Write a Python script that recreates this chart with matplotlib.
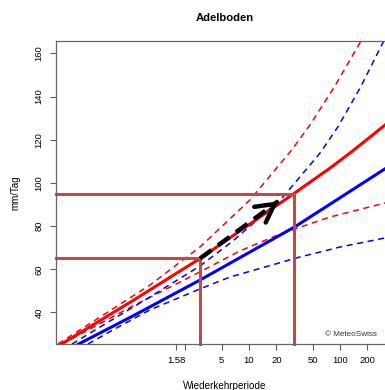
import numpy as np
import matplotlib.pyplot as plt
from matplotlib.ticker import NullLocator

plt.rcParams['font.family'] = ['Liberation Sans', 'DejaVu Sans']

# return level curves (return period in years, precipitation in mm/day)
red_T = [0.0865, 0.53, 2.9, 31, 78, 135, 255, 395]
red_v = [25.3, 45.5, 65, 95, 106.9, 114.5, 123.8, 130.3]
red_lo_T = [0.088, 0.53, 2.89, 7.96, 21.9, 77.6, 313, 392]
red_lo_v = [25.4, 43.0, 58.8, 68.5, 76.3, 84.2, 90.7, 91.6]
red_hi_T = [0.0796, 0.817, 2.89, 10.25, 29.4, 46.8, 88, 170, 275]
red_hi_v = [25.4, 52.7, 70.3, 92.1, 115.2, 126.8, 144.9, 165.7, 181.0]

blue_T = [0.133, 0.531, 2.89, 17.7, 32.0, 299, 392]
blue_v = [25.3, 38.4, 55.0, 73.6, 79.7, 106.0, 109.2]
blue_lo_T = [0.170, 0.320, 0.817, 2.89, 6.18, 36.3, 100, 313, 392]
blue_lo_v = [25.4, 31.9, 41.2, 50.9, 56.4, 65.7, 70.3, 74.5, 75.0]
blue_hi_T = [0.1135, 0.273, 0.817, 2.89, 6.67, 23.8, 60.3, 95, 166, 287, 392]
blue_hi_v = [25.4, 35.1, 47.2, 61.5, 73.1, 93.6, 113.8, 126.0, 143.9, 163.8, 174.5]

# levels marked on the red curve and their return periods
mark_T = [2.9, 31]
mark_v = [65, 95]

# shift arrow
arrow_T = [2.9, 21]
arrow_v = [65, 91.5]

xticks = [1.58, 2, 5, 10, 20, 50, 100, 200]
xticklabels = ['1.58', '', '5', '10', '20', '50', '100', '200']
yticks = [40, 60, 80, 100, 120, 140, 160]

xmin, xmax = 0.0757, 392
ymin, ymax = 25.4, 165.7

RED = '#ff0000'
BLUE = '#0000ff'
MARK = '#bf4b48'

fig = plt.figure(figsize=(3.85, 3.9), dpi=100)
ax = fig.add_axes([56/385, 46/390, 338/385, 303/390])

dash = (4, 3)
ax.plot(red_hi_T, red_hi_v, color=RED, lw=1.1, dashes=dash)
ax.plot(red_lo_T, red_lo_v, color=RED, lw=1.1, dashes=dash)
ax.plot(blue_hi_T, blue_hi_v, color=BLUE, lw=1.1, dashes=dash)
ax.plot(blue_lo_T, blue_lo_v, color=BLUE, lw=1.1, dashes=dash)
ax.plot(red_T, red_v, color=RED, lw=2.2)
ax.plot(blue_T, blue_v, color=BLUE, lw=2.2)

# guide lines from the axes to the curve
for t, v in zip(mark_T, mark_v):
    ax.plot([xmin, t, t], [v, v, ymin], color=MARK, lw=2.2,
            solid_joinstyle='miter', clip_on=False)

# dashed arrow with an open head
ax.plot(arrow_T, arrow_v, color='k', lw=3.2, dashes=(3.2, 1.8),
        dash_capstyle='butt')
lt = np.log10(arrow_T)
base_T = 10 ** (lt[0] + 0.97 * (lt[1] - lt[0]))
base_v = arrow_v[0] + 0.97 * (arrow_v[1] - arrow_v[0])
ax.annotate('', xy=(arrow_T[1], arrow_v[1]), xytext=(base_T, base_v),
            arrowprops=dict(arrowstyle='->,head_length=1.3,head_width=0.7',
                            lw=3.2, color='k', shrinkA=0, shrinkB=0))

ax.set_xscale('log')
ax.set_xlim(xmin, xmax)
ax.set_ylim(ymin, ymax)
ax.xaxis.set_minor_locator(NullLocator())
ax.set_xticks(xticks)
ax.set_xticklabels(xticklabels)
ax.set_yticks(yticks)
plt.setp(ax.get_yticklabels(), rotation=90, va='center')
ax.tick_params(axis='both', length=4.3, width=0.8, color='0.35',
               labelsize=6.8, pad=4.5)
for s in ax.spines.values():
    s.set_color('0.4')
    s.set_linewidth(0.9)

ax.set_title('Adelboden', fontsize=8.1, fontweight='bold', pad=14.4)
fig.text(225/385, 1 - 389.3/390, 'Wiederkehrperiode', ha='center',
         va='baseline', fontsize=7.1)
fig.text(15/385, 1 - 193/390, 'mm/Tag', ha='center', va='center',
         rotation=90, fontsize=7.0)
fig.text(377/385, 1 - 334/390, '© MeteoSwiss', ha='right', va='center',
         fontsize=5.9, color='0.2')

fig.savefig('out.png', dpi=100)
